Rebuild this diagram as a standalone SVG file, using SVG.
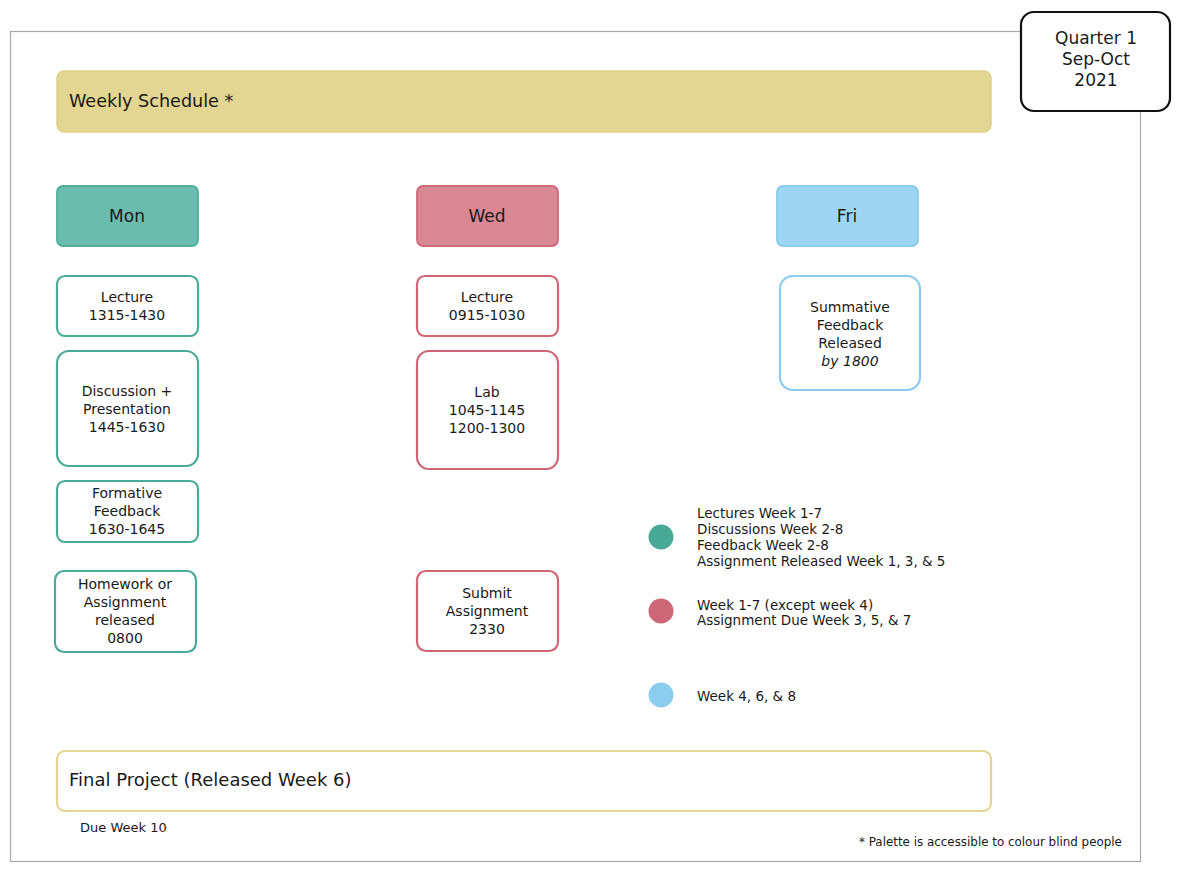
<svg xmlns="http://www.w3.org/2000/svg" width="1182" height="872" viewBox="0 0 1182 872">
<style>
text{font-family:"DejaVu Sans","Noto Sans",sans-serif;fill:#1a1a1a}
.c{text-anchor:middle}
.n{font-size:14px}
.h{font-size:17px}
.l{font-size:13.5px}
.teal{fill:#fff;stroke:#4aab98;stroke-width:2.2}
.red{fill:#fff;stroke:#cf6676;stroke-width:2.2}
.blue{fill:#fff;stroke:#8ccbee;stroke-width:2.2}
</style>
<rect x="10.5" y="31.5" width="1130" height="830" fill="#fff" stroke="#aaa" stroke-width="1.2"/>
<g id="quarter">
<rect x="1021" y="12" width="149" height="99" rx="13" fill="#fff" stroke="#111" stroke-width="2.2"/>
<text class="c h" x="1096" y="44">Quarter 1</text>
<text class="c h" x="1096" y="65">Sep-Oct</text>
<text class="c h" x="1096" y="86">2021</text>
</g>
<g id="weekly">
<rect x="57" y="71" width="934" height="61" rx="7" fill="#e3d592" stroke="#e0d08a" stroke-width="1.5"/>
<text x="69" y="107" font-size="17.6">Weekly Schedule *</text>
</g>
<g id="mon">
<rect x="57" y="186" width="141" height="60" rx="6" fill="#6abcad" stroke="#51ae9d" stroke-width="1.8"/>
<text class="c h" x="127" y="222">Mon</text>
</g>
<g id="wed">
<rect x="417" y="186" width="141" height="60" rx="6" fill="#d88793" stroke="#cc6a79" stroke-width="1.8"/>
<text class="c h" x="487" y="222">Wed</text>
</g>
<g id="fri">
<rect x="777" y="186" width="141" height="60" rx="6" fill="#9dd5f2" stroke="#8bcbee" stroke-width="1.8"/>
<text class="c h" x="847" y="222">Fri</text>
</g>
<g id="mon-lecture">
<rect class="teal" x="57" y="276" width="141" height="60" rx="8"/>
<text class="c n" x="127" y="302">Lecture</text>
<text class="c n" x="127" y="320">1315-1430</text>
</g>
<g id="mon-discussion">
<rect class="teal" x="57" y="351" width="141" height="115" rx="12"/>
<text class="c n" x="127" y="396">Discussion +</text>
<text class="c n" x="127" y="414">Presentation</text>
<text class="c n" x="127" y="432">1445-1630</text>
</g>
<g id="mon-feedback">
<rect class="teal" x="57" y="481" width="141" height="61" rx="8"/>
<text class="c n" x="127" y="498">Formative</text>
<text class="c n" x="127" y="516">Feedback</text>
<text class="c n" x="127" y="534">1630-1645</text>
</g>
<g id="mon-homework">
<rect class="teal" x="55" y="571" width="141" height="81" rx="9"/>
<text class="c n" x="125" y="589">Homework or</text>
<text class="c n" x="125" y="607">Assignment</text>
<text class="c n" x="125" y="625">released</text>
<text class="c n" x="125" y="643">0800</text>
</g>
<g id="wed-lecture">
<rect class="red" x="417" y="276" width="141" height="60" rx="8"/>
<text class="c n" x="487" y="302">Lecture</text>
<text class="c n" x="487" y="320">0915-1030</text>
</g>
<g id="wed-lab">
<rect class="red" x="417" y="351" width="141" height="118" rx="12"/>
<text class="c n" x="487" y="397">Lab</text>
<text class="c n" x="487" y="415">1045-1145</text>
<text class="c n" x="487" y="433">1200-1300</text>
</g>
<g id="wed-submit">
<rect class="red" x="417" y="571" width="141" height="80" rx="9"/>
<text class="c n" x="487" y="598">Submit</text>
<text class="c n" x="487" y="616">Assignment</text>
<text class="c n" x="487" y="634">2330</text>
</g>
<g id="fri-summative">
<rect class="blue" x="780" y="276" width="140" height="114" rx="13"/>
<text class="c n" x="850" y="312">Summative</text>
<text class="c n" x="850" y="330">Feedback</text>
<text class="c n" x="850" y="348">Released</text>
<text class="c n" x="850" y="366" font-style="italic">by 1800</text>
</g>
<g id="legend">
<circle cx="661" cy="537" r="12.5" fill="#47a996"/>
<text class="l" x="697" y="518">Lectures Week 1-7</text>
<text class="l" x="697" y="534">Discussions Week 2-8</text>
<text class="l" x="697" y="550">Feedback Week 2-8</text>
<text class="l" x="697" y="566">Assignment Released Week 1, 3, &amp; 5</text>
<circle cx="661" cy="611" r="12.5" fill="#cd6676"/>
<text class="l" x="697" y="610">Week 1-7 (except week 4)</text>
<text class="l" x="697" y="625">Assignment Due Week 3, 5, &amp; 7</text>
<circle cx="661" cy="695" r="12.5" fill="#8bcdee"/>
<text class="l" x="697" y="701">Week 4, 6, &amp; 8</text>
</g>
<g id="final">
<rect x="57" y="751" width="934" height="60" rx="8" fill="#fff" stroke="#e3d592" stroke-width="2.2"/>
<text x="69" y="786" font-size="18">Final Project (Released Week 6)</text>
<text x="80" y="832" font-size="13">Due Week 10</text>
</g>
<text x="859" y="846" font-size="11.9">* Palette is accessible to colour blind people</text>
<g id="connectors"/>
</svg>
